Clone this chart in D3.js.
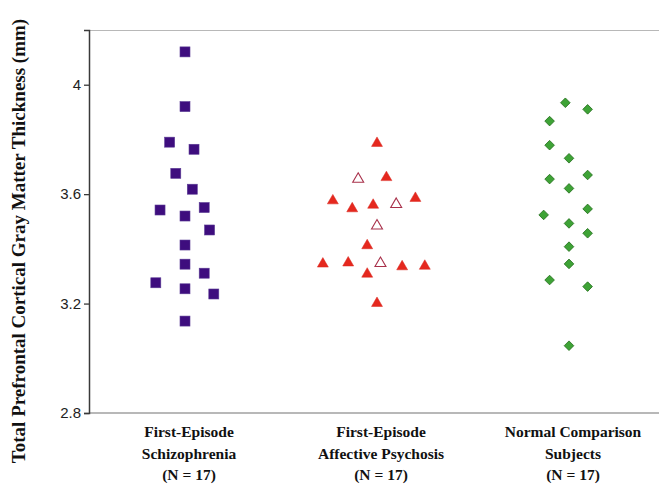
<!DOCTYPE html>
<html>
<head>
<meta charset="utf-8">
<script src="https://cdn.jsdelivr.net/npm/d3@7"></script>
<style>
  body { margin: 0; background: #fff; }
  svg { display: block; }
</style>
</head>
<body>
<div id="chart"></div>
<script>
// group labels (one line per array entry)
const groups = [
    ["First-Episode", "Schizophrenia", "(N = 17)"],
    ["First-Episode", "Affective Psychosis", "(N = 17)"],
    ["Normal Comparison", "Subjects", "(N = 17)"]
];
const yTicks = [2.8, 3.2, 3.6, 4];

// values, with the horizontal jitter used in the plot
const schizValues = [4.12, 3.92, 3.79, 3.764, 3.676, 3.618, 3.542, 3.551, 3.52, 3.469, 3.414, 3.344, 3.311, 3.276, 3.254, 3.235, 3.136];
const schizJitter = [0, 0, -0.08, 0.047, -0.048, 0.038, -0.13, 0.1, 0, 0.128, 0, 0, 0.1, -0.152, 0, 0.15, 0];

const affectValues = [3.786, 3.655, 3.661, 3.576, 3.547, 3.56, 3.563, 3.585, 3.484, 3.412, 3.345, 3.349, 3.347, 3.308, 3.335, 3.337, 3.201];
const affectJitter = [0, -0.098, 0.049, -0.23, -0.129, -0.02, 0.1, 0.2, 0, -0.051, -0.282, -0.15, 0.018, -0.051, 0.131, 0.249, 0];
const affectOpen   = [false, true, false, false, false, false, true, false, true, false, false, false, true, false, false, false, false];

const normalValues = [3.934, 3.91, 3.867, 3.779, 3.731, 3.67, 3.655, 3.621, 3.546, 3.524, 3.493, 3.457, 3.408, 3.345, 3.286, 3.262, 3.046];
const normalJitter = [-0.019, 0.097, -0.101, -0.101, 0, 0.097, -0.101, 0, 0.097, -0.132, 0, 0.097, 0, 0, -0.101, 0.097, 0];

const W = 659, H = 484;
const margin = { top: 30, right: -6, bottom: 71, left: 89 };

const svg = d3.select("#chart")
    .append("svg")
    .attr("width", W)
    .attr("height", H);

const x = d3.scaleLinear()
    .domain([0.5, 3.5])
    .range([margin.left, W - margin.right]);

const y = d3.scaleLinear()
    .domain([2.8, 4.2])
    .range([H - margin.bottom, margin.top]);

// frame: light top and bottom rules
svg.append("line")
    .attr("x1", margin.left).attr("x2", W)
    .attr("y1", y(4.2) + 0.5).attr("y2", y(4.2) + 0.5)
    .attr("stroke", "#b8b8b8").attr("stroke-width", 1.2);

svg.append("line")
    .attr("x1", margin.left).attr("x2", W)
    .attr("y1", y(2.8)).attr("y2", y(2.8))
    .attr("stroke", "#a0a0a0").attr("stroke-width", 1.5);

// y axis
const yAxis = svg.append("g")
    .attr("transform", `translate(${margin.left},0)`)
    .call(d3.axisLeft(y).tickValues(yTicks).tickSize(5).tickPadding(3)
        .tickFormat(d => d === 4 ? "4" : d3.format(".1f")(d)));

yAxis.select(".domain").attr("stroke", "#3a3a3a").attr("stroke-width", 1.5);
yAxis.selectAll(".tick line").attr("stroke", "#3a3a3a").attr("stroke-width", 1.3);
yAxis.selectAll(".tick text")
    .attr("fill", "#222")
    .style("font-family", "'Liberation Sans', Arial, sans-serif")
    .style("font-size", "15px");

// y title
svg.append("text")
    .attr("transform", `translate(25,${(margin.top + H) / 2 - 16}) rotate(-90)`)
    .attr("text-anchor", "middle")
    .style("font-family", "'Liberation Serif', 'Times New Roman', serif")
    .style("font-weight", "bold")
    .style("font-size", "19px")
    .attr("fill", "#111")
    .text("Total Prefrontal Cortical Gray Matter Thickness (mm)");

// group labels
const lab = svg.selectAll("text.group")
    .data(groups)
    .enter()
    .append("text")
    .attr("class", "group")
    .attr("text-anchor", "middle")
    .style("font-family", "'Liberation Serif', 'Times New Roman', serif")
    .style("font-weight", "bold")
    .style("font-size", "15.5px")
    .attr("fill", "#111");

lab.selectAll("tspan")
    .data((d, i) => d.map(t => ({ t, i })))
    .enter()
    .append("tspan")
    .attr("x", d => x(d.i + 1) + 4)
    .attr("y", (d, j) => 437 + j * 21.5)
    .text(d => d.t);

// schizophrenia: squares
svg.append("g")
    .selectAll("rect")
    .data(schizValues)
    .enter()
    .append("rect")
    .attr("x", (d, i) => x(1 + schizJitter[i]) - 5)
    .attr("y", d => y(d) - 5)
    .attr("width", 10)
    .attr("height", 10)
    .attr("fill", "#3e0d7e")
    .attr("stroke", "#5a3a94")
    .attr("stroke-width", 0.6);

// affective psychosis: triangles, filled or open
const tri = d3.symbol().type(d3.symbolTriangle).size(52);
svg.append("g")
    .selectAll("path")
    .data(affectValues)
    .enter()
    .append("path")
    .attr("d", tri)
    .attr("transform", (d, i) => `translate(${x(2 + affectJitter[i])},${y(d)})`)
    .attr("fill", (d, i) => affectOpen[i] ? "#fff" : "#e5281e")
    .attr("stroke", (d, i) => affectOpen[i] ? "#a8304a" : "#d8261e")
    .attr("stroke-width", (d, i) => affectOpen[i] ? 1.1 : 0.5);

// normal comparison: diamonds
svg.append("g")
    .selectAll("path")
    .data(normalValues)
    .enter()
    .append("path")
    .attr("d", d3.symbol().type(d3.symbolSquare).size(46))
    .attr("transform", (d, i) => `translate(${x(3 + normalJitter[i])},${y(d)}) rotate(45)`)
    .attr("fill", "#3ea336")
    .attr("stroke", "#26701f")
    .attr("stroke-width", 0.8);
</script>
</body>
</html>
